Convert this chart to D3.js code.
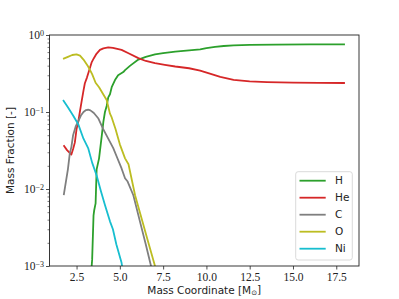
<!DOCTYPE html>
<html><head><meta charset="utf-8">
<script src="https://cdn.jsdelivr.net/npm/d3@7"></script>
<style>body{margin:0;background:#fff}svg{display:block}</style>
</head><body>
<svg id="c" width="399" height="299"></svg>
<script>
// ---- data ----
const speciesNames = ["H", "He", "C", "O", "Ni"];
const speciesColors = ["#2ca02c", "#d62728", "#7f7f7f", "#bcbd22", "#17becf"];

const massH  = [3.30,3.40,3.48,3.52,3.60,3.66,3.80,3.95,4.05,4.14,4.24,4.33,4.43,4.53,4.72,4.90,5.20,5.30,5.60,6.07,6.50,7.03,7.50,8.20,9.00,9.64,10.0,10.5,11.0,11.57,12.5,14.0,16.0,18.0];
const fracH  = [0.0006,0.0012,0.0045,0.0053,0.0065,0.018,0.025,0.048,0.075,0.10,0.12,0.155,0.17,0.21,0.26,0.30,0.33,0.35,0.40,0.48,0.52,0.56,0.58,0.61,0.63,0.65,0.675,0.70,0.72,0.735,0.745,0.75,0.755,0.757];

const massHe = [1.75,1.95,2.20,2.30,2.40,2.50,2.60,2.69,2.79,2.90,2.98,3.10,3.20,3.37,3.50,3.65,3.85,4.05,4.33,4.60,5.10,5.50,6.07,6.50,7.03,7.60,8.20,9.00,9.64,10.2,10.8,11.57,12.5,13.5,15.0,16.5,18.0];
const fracHe = [0.037,0.032,0.028,0.033,0.040,0.060,0.075,0.100,0.136,0.19,0.236,0.28,0.33,0.44,0.50,0.57,0.64,0.67,0.69,0.68,0.64,0.58,0.50,0.46,0.43,0.41,0.39,0.37,0.345,0.315,0.285,0.262,0.25,0.245,0.241,0.239,0.238];

const massC  = [1.76,1.90,2.00,2.11,2.20,2.30,2.45,2.59,2.75,2.90,3.05,3.17,3.30,3.50,3.75,4.04,4.33,4.62,4.80,5.10,5.30,5.45,5.78,6.20,6.50,6.80,6.85];
const fracC  = [0.0083,0.013,0.018,0.029,0.035,0.050,0.065,0.075,0.090,0.100,0.106,0.107,0.105,0.097,0.083,0.060,0.045,0.034,0.027,0.0185,0.0138,0.0125,0.0083,0.0035,0.0019,0.0010,0.0009];

const massO  = [1.72,2.00,2.25,2.50,2.70,2.90,3.17,3.40,3.60,3.80,4.04,4.24,4.43,4.53,4.75,5.00,5.30,5.50,5.88,6.20,6.60,7.03,7.08];
const fracO  = [0.49,0.52,0.55,0.56,0.54,0.48,0.39,0.31,0.24,0.21,0.17,0.143,0.095,0.085,0.060,0.038,0.025,0.021,0.0083,0.0046,0.0022,0.0010,0.0009];

const massNi = [1.72,2.00,2.30,2.59,2.90,3.17,3.40,3.66,3.90,4.14,4.43,4.60,4.80,5.10,5.16];
const fracNi = [0.143,0.115,0.090,0.070,0.045,0.034,0.022,0.015,0.0095,0.0062,0.0038,0.0030,0.0019,0.0011,0.0009];

const xTicks = [2.5, 5.0, 7.5, 10.0, 12.5, 15.0, 17.5];
const yTicks = [1e-3, 1e-2, 1e-1, 1];
const yTickExp = ["\u22123", "\u22122", "\u22121", "0"];

const seriesMass = [massH, massHe, massC, massO, massNi];
const seriesFrac = [fracH, fracHe, fracC, fracO, fracNi];

// ---- layout ----
const L = 49.5, R = 359, T = 35, B = 266;
const svg = d3.select("#c");
const x = d3.scaleLinear().domain([0.9375, 18.8125]).range([L, R]);
const y = d3.scaleLog().domain([1e-3, 1]).range([B, T]);

svg.append("defs").append("clipPath").attr("id", "clip")
  .append("rect").attr("x", L).attr("y", T).attr("width", R - L).attr("height", B - T);

// lines
const line = d3.line().x(d => x(d[0])).y(d => y(d[1]));
const g = svg.append("g").attr("clip-path", "url(#clip)");
speciesNames.forEach((n, i) => {
  const pts = seriesMass[i].map((m, j) => [m, seriesFrac[i][j]]);
  g.append("path").datum(pts).attr("d", line)
    .attr("fill", "none").attr("stroke", speciesColors[i])
    .attr("stroke-width", 1.8).attr("stroke-linejoin", "round");
});

// axes
const serif = "'Liberation Serif', 'DejaVu Serif', serif";
const sans = "'DejaVu Sans', sans-serif";

const xAxis = svg.append("g").attr("transform", `translate(0,${B})`)
  .call(d3.axisBottom(x).tickValues(xTicks).tickFormat(d3.format(".1f")).tickSize(3.5).tickPadding(3));
xAxis.select(".domain").remove();
xAxis.selectAll("text").attr("font-family", serif).attr("font-size", 11.5).attr("fill", "#222");
xAxis.selectAll("line").attr("stroke", "#222").attr("stroke-width", 0.8);

const minor = [];
[-3, -2, -1].forEach(e => { for (let k = 2; k <= 9; k++) minor.push(k * Math.pow(10, e)); });
const yMinor = svg.append("g").attr("transform", `translate(${L},0)`)
  .call(d3.axisLeft(y).tickValues(minor).tickFormat("").tickSize(2));
yMinor.select(".domain").remove();
yMinor.selectAll("line").attr("stroke", "#222").attr("stroke-width", 0.6);

const yAxis = svg.append("g").attr("transform", `translate(${L},0)`)
  .call(d3.axisLeft(y).tickValues(yTicks).tickFormat("").tickSize(3.5));
yAxis.select(".domain").remove();
yAxis.selectAll("line").attr("stroke", "#222").attr("stroke-width", 0.8);
yAxis.selectAll(".tick").each(function(d, i) {
  const t = d3.select(this).append("text").attr("x", -5.5).attr("dy", "0.32em")
    .attr("text-anchor", "end").attr("font-family", serif).attr("font-size", 11.5).attr("fill", "#222");
  t.append("tspan").text("10");
  t.append("tspan").attr("dy", "-0.45em").attr("font-size", 8).text(yTickExp[i]);
});

// frame
svg.append("rect").attr("x", L).attr("y", T).attr("width", R - L).attr("height", B - T)
  .attr("fill", "none").attr("stroke", "#222").attr("stroke-width", 0.9);

// axis labels
svg.append("text").attr("x", (L + R) / 2).attr("y", 293.5).attr("text-anchor", "middle")
  .attr("font-family", sans).attr("font-size", 10.5).attr("fill", "#222")
  .call(t => { t.append("tspan").text("Mass Coordinate [M");
               t.append("tspan").attr("font-size", 7).attr("dy", "0.25em").text("\u2299");
               t.append("tspan").attr("dy", "-0.25em").text("]"); });
svg.append("text").attr("transform", `translate(14,${(T + B) / 2}) rotate(-90)`)
  .attr("text-anchor", "middle").attr("font-family", sans).attr("font-size", 10.5).attr("fill", "#222")
  .text("Mass Fraction [-]");

// legend
const lg = svg.append("g");
lg.append("rect").attr("x", 295.7).attr("y", 171.7).attr("width", 56.6).attr("height", 88.3)
  .attr("rx", 2.5).attr("fill", "#fff").attr("fill-opacity", 0.8).attr("stroke", "#d0d0d0").attr("stroke-width", 0.8);
speciesNames.forEach((n, i) => {
  const yy = 180.7 + i * 17;
  lg.append("line").attr("x1", 299.5).attr("x2", 325.7).attr("y1", yy).attr("y2", yy)
    .attr("stroke", speciesColors[i]).attr("stroke-width", 1.8);
  lg.append("text").attr("x", 335).attr("y", yy).attr("dy", "0.35em")
    .attr("font-family", sans).attr("font-size", 10.5).attr("fill", "#222").text(n);
});
</script>
</body></html>
